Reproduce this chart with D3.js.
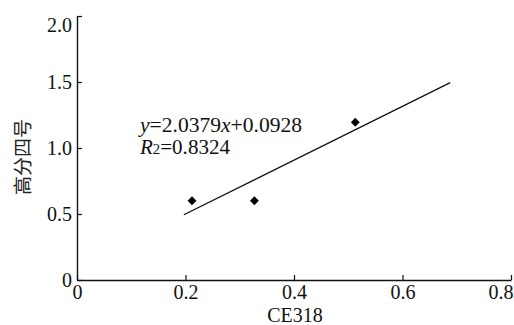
<!DOCTYPE html>
<html>
<head>
<meta charset="utf-8">
<script src="https://cdn.jsdelivr.net/npm/d3@7"></script>
<style>
  .serif { font-family: "Liberation Serif", "Times New Roman", serif !important; }
  .cjk { font-family: "Noto Sans CJK SC", sans-serif !important; }
</style>
</head>
<body style="margin:0">
<script>
// ---- data ----
const ce318 = [0.212, 0.327, 0.513];
const gf4 = [0.60, 0.60, 1.195];
const xTicks = [0, 0.2, 0.4, 0.6, 0.8];
const xTickLabels = ["0", "0.2", "0.4", "0.6", "0.8"];
const yTicks = [0, 0.5, 1.0, 1.5, 2.0];
const yTickLabels = ["0", "0.5", "1.0", "1.5", "2.0"];
const fitSlope = 2.0379;
const fitIntercept = 0.0928;
const fitRange = [0.197, 0.688];
const r2 = "0.8324";
const xTitle = "CE318";
const yTitle = "高分四号";

const W = 514, H = 325;
const svg = d3.select("body").append("svg").attr("width", W).attr("height", H);

function serif(sel) {
  return sel.classed("serif", true)
    .attr("font-family", "Liberation Serif")
    .style("font-family", '"Liberation Serif", "Times New Roman", serif', "important");
}

const x = d3.scaleLinear().domain([0, 0.8]).range([77, 511]);
const y = d3.scaleLinear().domain([0, 2.0]).range([280, 16]);

// axes
const xAxis = d3.axisBottom(x).tickValues(xTicks)
  .tickFormat((d, i) => xTickLabels[i]).tickSizeInner(-5).tickSizeOuter(0).tickPadding(5);
const gx = svg.append("g").attr("transform", `translate(0,${y(0)})`).call(xAxis);
serif(gx);
serif(gx.selectAll("text")).attr("font-size", 20)
  .attr("dy", "0.69em")
  .attr("text-anchor", d => d === 0.8 ? "end" : "middle")
  .attr("x", d => d === 0.8 ? 2 : 0)
  .attr("fill", "#111");

const yAxis = d3.axisLeft(y).tickValues(yTicks)
  .tickFormat((d, i) => yTickLabels[i]).tickSizeInner(-5).tickSizeOuter(0).tickPadding(5);
const gy = svg.append("g").attr("transform", `translate(${x(0)},0)`).call(yAxis);
serif(gy);
serif(gy.selectAll("text")).attr("font-size", 20)
  .attr("dy", d => d === 2.0 ? "0.75em" : "0.33em")
  .attr("fill", "#111");

svg.selectAll(".domain").attr("stroke", "#111").attr("stroke-width", 1.4);
svg.selectAll(".tick line").attr("stroke", "#111").attr("stroke-width", 1.2);

// fit line
svg.append("line")
  .attr("x1", x(fitRange[0])).attr("y1", y(fitSlope * fitRange[0] + fitIntercept))
  .attr("x2", x(fitRange[1])).attr("y2", y(fitSlope * fitRange[1] + fitIntercept))
  .attr("stroke", "#111").attr("stroke-width", 1.3);

// points (diamonds)
svg.selectAll("path.pt").data(ce318).enter().append("path")
  .attr("class", "pt")
  .attr("d", d3.symbol().type(d3.symbolDiamond2).size(50))
  .attr("transform", (d, i) => `translate(${x(d)},${y(gf4[i])})`)
  .attr("fill", "#000");

// annotation
const ann = svg.append("g").attr("transform", "translate(140,0)");
const t1 = serif(ann.append("text")).attr("x", 0).attr("y", 132)
  .attr("font-size", 20).attr("fill", "#111")
  .attr("textLength", 162).attr("lengthAdjust", "spacingAndGlyphs");
serif(t1.append("tspan")).attr("font-style", "italic").text("y");
serif(t1.append("tspan")).text("=" + fitSlope.toFixed(4));
serif(t1.append("tspan")).attr("font-style", "italic").text("x");
serif(t1.append("tspan")).text("+" + fitIntercept.toFixed(4));

const t2 = serif(ann.append("text")).attr("x", 0).attr("y", 154)
  .attr("font-size", 20).attr("fill", "#111")
  .attr("textLength", 90).attr("lengthAdjust", "spacingAndGlyphs");
serif(t2.append("tspan")).attr("font-style", "italic").text("R");
serif(t2.append("tspan")).attr("font-size", 14).text("2");
serif(t2.append("tspan")).text("=" + r2);

// axis titles
serif(svg.append("text")).attr("x", 295).attr("y", 322).attr("text-anchor", "middle")
  .attr("font-size", 20).attr("fill", "#111")
  .text(xTitle);
svg.append("text").attr("class", "cjk").attr("transform", "translate(30,157) rotate(-90)")
  .attr("text-anchor", "middle")
  .style("font-family", '"Noto Sans CJK SC", sans-serif', "important").attr("font-size", 19)
  .attr("fill", "#222")
  .text(yTitle);
</script>
</body>
</html>
